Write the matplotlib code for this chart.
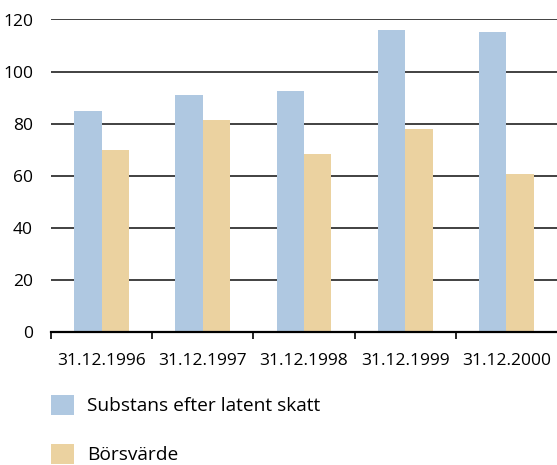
import matplotlib
matplotlib.use("Agg")
import matplotlib.pyplot as plt
from matplotlib.patches import Patch
import numpy as np

categories = ["31.12.1996", "31.12.1997", "31.12.1998", "31.12.1999", "31.12.2000"]
substans = [85, 91, 92.5, 116, 115.2]
borsvarde = [70, 81.3, 68.3, 78, 60.6]
series_names = ["Substans efter latent skatt", "Börsvärde"]
yticks = [0, 20, 40, 60, 80, 100, 120]

blue = "#AFC8E1"
tan = "#EBD2A0"

plt.rcParams['font.family'] = ['Open Sans', 'DejaVu Sans']
fs = 12.5
lfs = 13.8

fig = plt.figure(figsize=(5.57, 4.65), dpi=100)
ax = fig.add_axes([51/557, 1-332/465, 1-51/557, (332-19.5)/465])

x = np.arange(len(categories))
w = 0.27
ax.bar(x - w/2, substans, width=w, color=blue, zorder=3)
ax.bar(x + w/2, borsvarde, width=w, color=tan, zorder=3)

ax.set_xlim(-0.5, len(categories) - 0.5)
ax.set_ylim(0, 120)
ax.set_yticks(yticks)
ax.set_yticklabels([str(v) for v in yticks], fontsize=fs)
ax.tick_params(axis='y', length=0, pad=13)
ax.yaxis.grid(True, color='#333333', linewidth=1.3, zorder=0)
ax.set_axisbelow(True)

ax.set_xticks(np.arange(len(categories)) - 0.5)
ax.set_xticklabels([])
ax.tick_params(axis='x', which='major', length=5, width=1.2, direction='out', color='black')
ax.set_xticks(x, minor=True)
ax.set_xticklabels(categories, minor=True, fontsize=fs)
ax.tick_params(axis='x', which='minor', length=0, pad=15)

for s in ['left', 'top', 'right']:
    ax.spines[s].set_visible(False)
ax.spines['bottom'].set_linewidth(1.6)
ax.spines['bottom'].set_color('black')
ax.spines['bottom'].set_zorder(4)

handles = [Patch(facecolor=blue, edgecolor='none'), Patch(facecolor=tan, edgecolor='none')]
fig.legend(handles, series_names, loc='upper left',
           bbox_to_anchor=(51/557, 1-395/465), frameon=False, fontsize=lfs,
           handlelength=1.2, handleheight=1.2, handletextpad=0.68,
           labelspacing=1.5, borderpad=0, borderaxespad=0)

fig.savefig("out.png", dpi=100)
